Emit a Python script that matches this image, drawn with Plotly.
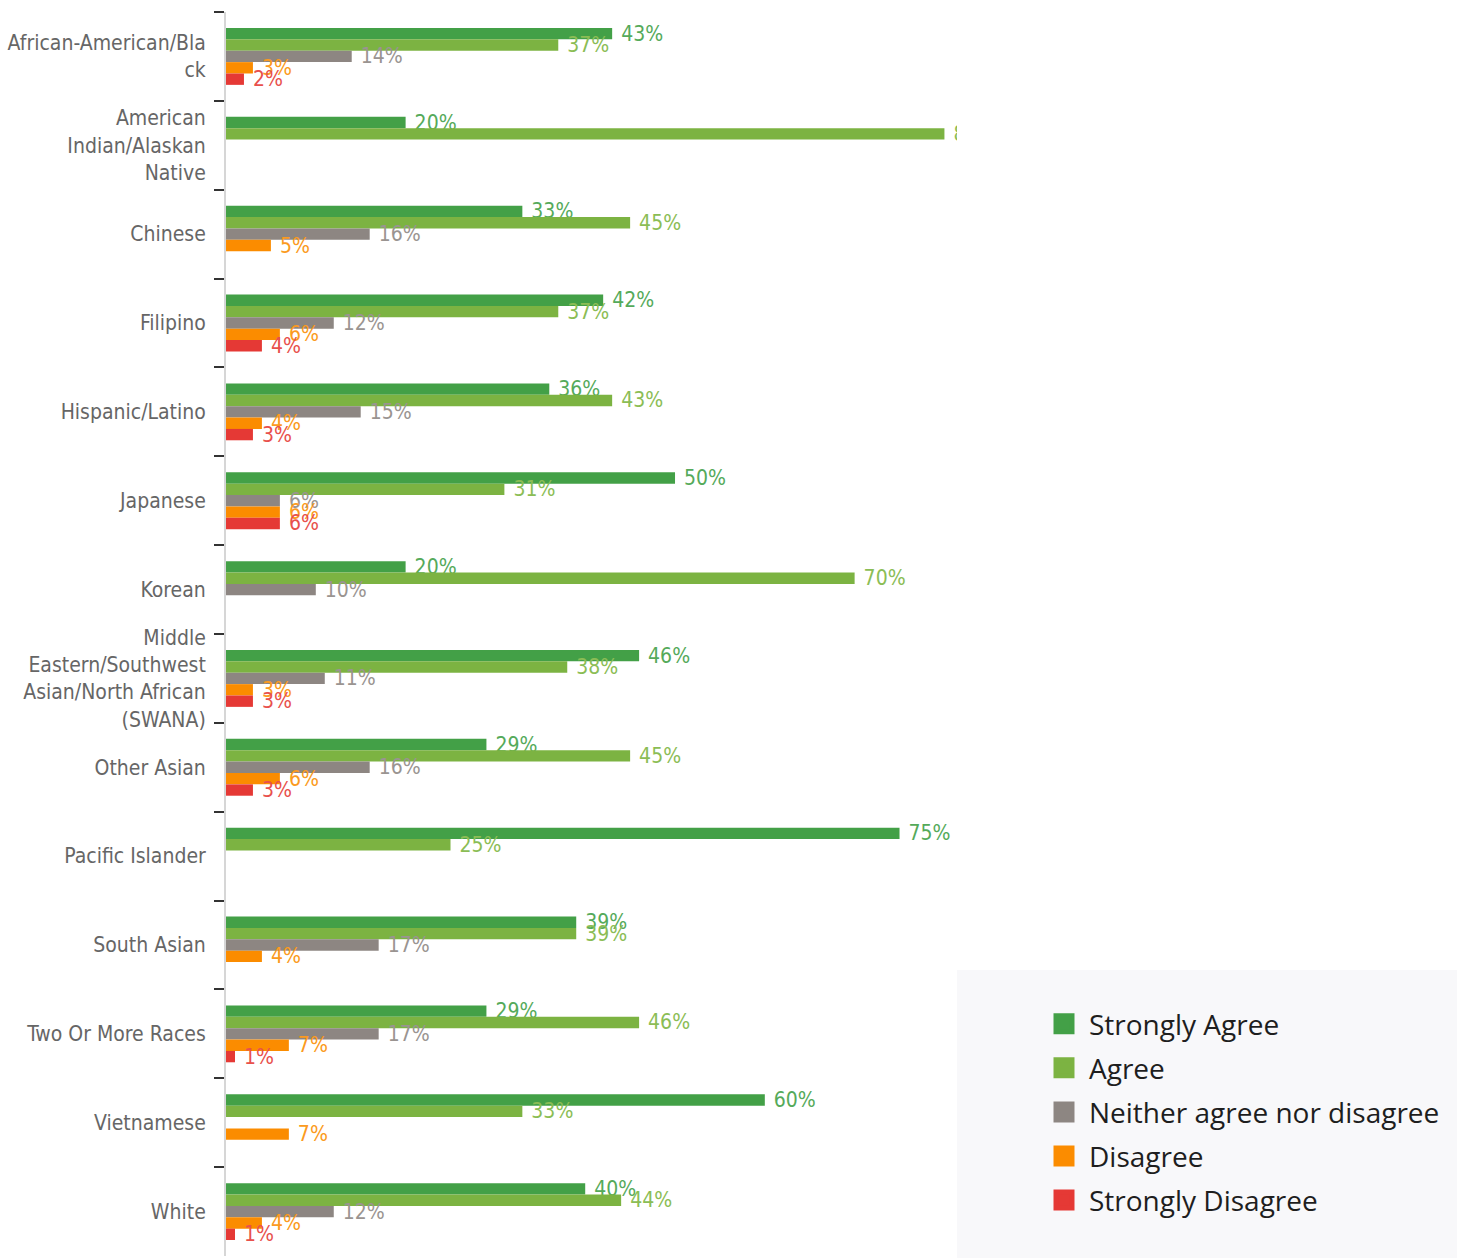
import plotly.graph_objects as go

# Survey responses by race/ethnicity (percent of respondents)
categories = [
    "African-American/Bla<br>ck",
    "American<br>Indian/Alaskan<br>Native",
    "Chinese",
    "Filipino",
    "Hispanic/Latino",
    "Japanese",
    "Korean",
    "Middle<br>Eastern/Southwest<br>Asian/North African<br>(SWANA)",
    "Other Asian",
    "Pacific Islander",
    "South Asian",
    "Two Or More Races",
    "Vietnamese",
    "White",
]

strongly_agree = [43, 20, 33, 42, 36, 50, 20, 46, 29, 75, 39, 29, 60, 40]
agree = [37, 80, 45, 37, 43, 31, 70, 38, 45, 25, 39, 46, 33, 44]
neither = [14, None, 16, 12, 15, 6, 10, 11, 16, None, 17, 17, None, 12]
disagree = [3, None, 5, 6, 4, 6, None, 3, 6, None, 4, 7, 7, 4]
strongly_disagree = [2, None, None, 4, 3, 6, None, 3, 3, None, None, 1, None, 1]

series_names = [
    "Strongly Agree",
    "Agree",
    "Neither agree nor disagree",
    "Disagree",
    "Strongly Disagree",
]
series_values = [strongly_agree, agree, neither, disagree, strongly_disagree]
series_colors = ["#43a047", "#7cb342", "#8d8682", "#fb8c00", "#e53935"]
label_colors = ["#55aa5a", "#8bbd55", "#9a9491", "#fb9a20", "#e8504c"]

LABEL_FONT = "DejaVu Sans Condensed"

fig = go.Figure()

for name, values, color, tcolor in zip(series_names, series_values,
                                       series_colors, label_colors):
    # percentage labels; empty where a response category has no answers
    labels = ["\u00a0%d%%" % v if v is not None else "" for v in values]
    fig.add_trace(
        go.Bar(
            name=name,
            y=categories,
            x=values,
            orientation="h",
            marker=dict(color=color, line=dict(width=0)),
            text=labels,
            textposition="outside",
            textangle=0,
            constraintext="none",
            cliponaxis=True,
            textfont=dict(family=LABEL_FONT, size=21, color=tcolor),
            showlegend=False,
            hoverinfo="skip",
        )
    )

# Legend entries with larger square swatches
for i, (name, color) in enumerate(zip(series_names, series_colors)):
    fig.add_trace(
        go.Scatter(
            name=name,
            x=[None],
            y=[None],
            mode="markers",
            marker=dict(symbol="square", size=16, color=color,
                        line=dict(width=5, color=color)),
            legendgroup=f"g{i}",
            showlegend=True,
        )
    )

fig.update_layout(
    width=1457,
    height=1258,
    margin=dict(l=226, r=500, t=12, b=2),
    paper_bgcolor="white",
    plot_bgcolor="white",
    barmode="group",
    bargap=0.36,
    bargroupgap=0,
    xaxis=dict(range=[0, 81.4], visible=False),
    yaxis=dict(
        type="category",
        categoryorder="array",
        categoryarray=categories,
        autorange="reversed",
        tickson="boundaries",
        ticks="outside",
        ticklen=10,
        tickwidth=2,
        tickcolor="#333333",
        showline=True,
        linecolor="#d6d6d6",
        linewidth=2,
        showgrid=False,
        ticklabelstandoff=14,
        tickfont=dict(family=LABEL_FONT, size=21, color="#666666"),
    ),
    legend=dict(
        x=(1039 - 226) / 731,
        xanchor="left",
        y=(1256 - 999) / 1244,
        yanchor="top",
        bgcolor="rgba(0,0,0,0)",
        font=dict(family="Open Sans", size=28, color="#1e1e1e"),
        itemwidth=40,
        tracegroupgap=4.7,
        traceorder="grouped",
    ),
    shapes=[
        dict(
            type="rect",
            xref="paper",
            yref="paper",
            x0=(957 - 226) / 731,
            x1=(1457 - 226) / 731,
            y0=(1256 - 1258) / 1244,
            y1=(1256 - 970) / 1244,
            fillcolor="#f8f8fa",
            line=dict(width=0),
            layer="below",
        )
    ],
)

fig.write_html("out.html")
